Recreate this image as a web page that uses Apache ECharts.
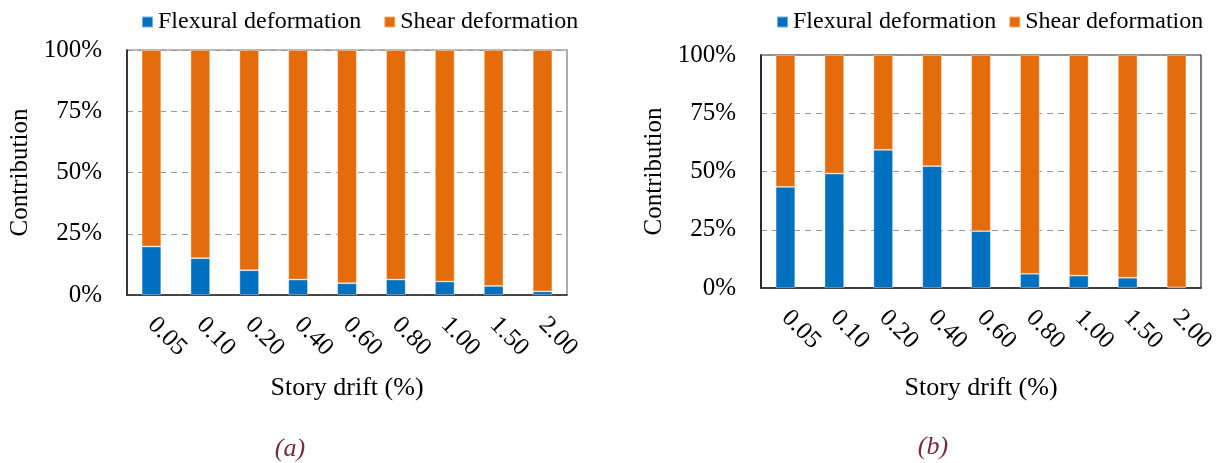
<!DOCTYPE html>
<html>
<head>
<meta charset="utf-8">
<script src="https://cdn.jsdelivr.net/npm/echarts@6/dist/echarts.min.js"></script>
<style>
html,body{margin:0;padding:0;background:#fff;}
#c{width:1221px;height:463px;}
</style>
</head>
<body>
<div id="c"></div>
<script>
const categories = ['0.05','0.10','0.20','0.40','0.60','0.80','1.00','1.50','2.00'];
const flexuralA = [19.8, 15.0, 10.1, 6.3, 4.8, 6.3, 5.5, 3.7, 1.5];
const shearA = [80.2, 85.0, 89.9, 93.7, 95.2, 93.7, 94.5, 96.3, 98.5];
const flexuralB = [43.4, 49.1, 59.3, 52.3, 24.4, 6.1, 5.3, 4.4, 0.3];
const shearB = [56.6, 50.9, 40.7, 47.7, 75.6, 93.9, 94.7, 95.6, 99.7];
const yTicks = [0, 25, 50, 75, 100];
const seriesNames = ['Flexural deformation', 'Shear deformation'];
const panelLabels = ['(a)', '(b)'];

const FONT = "'Liberation Serif','Times New Roman',serif";
const BLUE = '#0070C0';
const ORANGE = '#E46C0A';

const chart = echarts.init(document.getElementById('c'));

function xAxis(idx, gap) {
  return {
    type: 'category', gridIndex: idx, data: categories,
    axisLine: {lineStyle: {color: '#222', width: 1.5}},
    axisTick: {show: false},
    axisLabel: {rotate: -45, margin: 26, fontFamily: FONT, fontSize: 25, color: '#000'},
    name: 'Story drift (%)', nameLocation: 'middle', nameGap: gap,
    nameTextStyle: {fontFamily: FONT, fontSize: 26, color: '#000'}
  };
}
function yAxis(idx) {
  return {
    type: 'value', gridIndex: idx, min: yTicks[0], max: yTicks[yTicks.length-1], interval: 25,
    axisLine: {show: true, lineStyle: {color: '#111', width: 1.5}},
    axisTick: {show: false},
    axisLabel: {formatter: '{value}%', margin: 25, fontFamily: FONT, fontSize: 25, color: '#000'},
    splitLine: {show: true, lineStyle: {color: '#999', type: [6, 5], width: 1.2}},
    name: 'Contribution', nameLocation: 'middle', nameGap: 94,
    nameTextStyle: {fontFamily: FONT, fontSize: 25, color: '#000'}
  };
}
function bar(name, data, idx, color, stack) {
  return {
    name, type: 'bar', xAxisIndex: idx, yAxisIndex: idx, stack, data,
    barWidth: '40%',
    itemStyle: {color, borderColor: 'rgba(255,255,255,0.45)', borderWidth: 0.8},
    emphasis: {disabled: true}
  };
}

chart.setOption({
  animation: false,
  backgroundColor: '#fff',
  textStyle: {fontFamily: FONT},
  grid: [
    {left: 127, top: 50, width: 440, height: 245, show: true, borderColor: '#777', borderWidth: 1.2, backgroundColor: 'transparent'},
    {left: 761, top: 55, width: 440, height: 233, show: true, borderColor: '#222', borderWidth: 1.2, backgroundColor: 'transparent'}
  ],
  legend: [
    {left: 136, top: 5, icon: 'rect', itemWidth: 11, itemHeight: 11, itemGap: 22, data: seriesNames,
     textStyle: {fontFamily: FONT, fontSize: 24, color: '#000'}},
    {left: 771, top: 5, icon: 'rect', itemWidth: 11, itemHeight: 11, itemGap: 12, data: seriesNames,
     textStyle: {fontFamily: FONT, fontSize: 24, color: '#000'}}
  ],
  title: [
    {text: panelLabels[0], left: 285, top: 431, textAlign: 'center',
     textStyle: {fontFamily: FONT, fontSize: 26, fontStyle: 'italic', fontWeight: 'normal', color: '#7B2942'}},
    {text: panelLabels[1], left: 928, top: 429, textAlign: 'center',
     textStyle: {fontFamily: FONT, fontSize: 26, fontStyle: 'italic', fontWeight: 'normal', color: '#7B2942'}}
  ],
  xAxis: [xAxis(0, 80), xAxis(1, 87)],
  yAxis: [yAxis(0), yAxis(1)],
  series: [
    bar(seriesNames[0], flexuralA, 0, BLUE, 'a'),
    bar(seriesNames[1], shearA, 0, ORANGE, 'a'),
    bar(seriesNames[0], flexuralB, 1, BLUE, 'b'),
    bar(seriesNames[1], shearB, 1, ORANGE, 'b')
  ]
});
</script>
</body>
</html>
